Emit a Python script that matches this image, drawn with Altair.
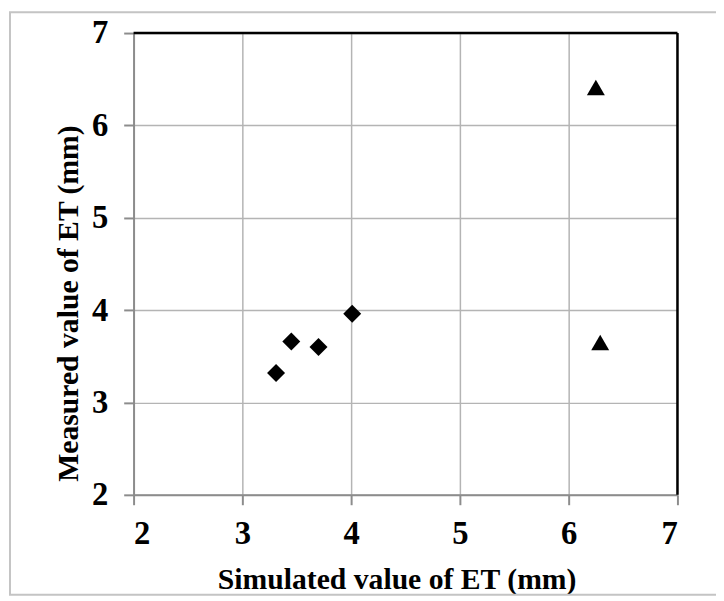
import altair as alt
import pandas as pd

# Data
sim_diamond = [3.31, 3.45, 3.70, 4.01]
meas_diamond = [3.32, 3.66, 3.60, 3.96]
sim_triangle = [6.25, 6.29]
meas_triangle = [6.41, 3.65]
series_names = ["Series A", "Series B"]
axis_ticks = [2, 3, 4, 5, 6, 7]

df = pd.DataFrame({
    "sim": sim_diamond + sim_triangle,
    "meas": meas_diamond + meas_triangle,
    "series": [series_names[0]] * len(sim_diamond) + [series_names[1]] * len(sim_triangle),
})
one = pd.DataFrame({"k": [0]})

W, H = 550, 467
FONT = "Liberation Serif"

x_axis = alt.Axis(
    values=axis_ticks, title="Simulated value of ET (mm)",
    titleBaseline="alphabetic", titleY=95, titleX=266, labelPadding=13,
)
y_axis = alt.Axis(
    values=axis_ticks, title="Measured value of ET (mm)",
    titleAngle=-90, titleBaseline="alphabetic", titleAlign="center",
    titleX=-57, titleY=273, labelPadding=16,
)

points = alt.Chart(df).mark_point(filled=True, opacity=1, color="black", size=330).encode(
    x=alt.X("sim:Q", scale=alt.Scale(domain=[2, 7], nice=False, zero=False), axis=x_axis),
    y=alt.Y("meas:Q", scale=alt.Scale(domain=[2, 7], nice=False, zero=False), axis=y_axis),
    shape=alt.Shape("series:N",
                    scale=alt.Scale(domain=series_names, range=["diamond", "triangle-up"]),
                    legend=None),
)

top_border = alt.Chart(one).mark_rule(color="black", strokeWidth=2.5).encode(
    x=alt.value(0), x2=alt.value(W), y=alt.value(0))
right_border = alt.Chart(one).mark_rule(color="black", strokeWidth=2.5).encode(
    x=alt.value(W), y=alt.value(0), y2=alt.value(H))
frame = alt.Chart(one).mark_rect(fill="white", fillOpacity=0, stroke="#c4c4c4", strokeWidth=2).encode(
    x=alt.value(-125), x2=alt.value(590), y=alt.value(-21), y2=alt.value(568))

chart = alt.layer(frame, points, top_border, right_border).properties(
    width=W, height=H,
    padding={"left": 127, "top": 22, "right": 39, "bottom": 102},
    autosize="none",
    background="white",
).configure_view(strokeWidth=0).configure_axis(
    labelFont=FONT, labelFontSize=33, labelFontWeight="bold", labelColor="black",
    titleFont=FONT, titleFontSize=30, titleFontWeight="bold", titleColor="black",
    domainColor="#8c8c8c", domainWidth=2, tickColor="#8c8c8c", tickWidth=2, tickSize=10,
    gridColor="#b4b4b4", gridWidth=1.5,
)

chart.save("out.html", embed_options={"renderer": "svg", "actions": False})
